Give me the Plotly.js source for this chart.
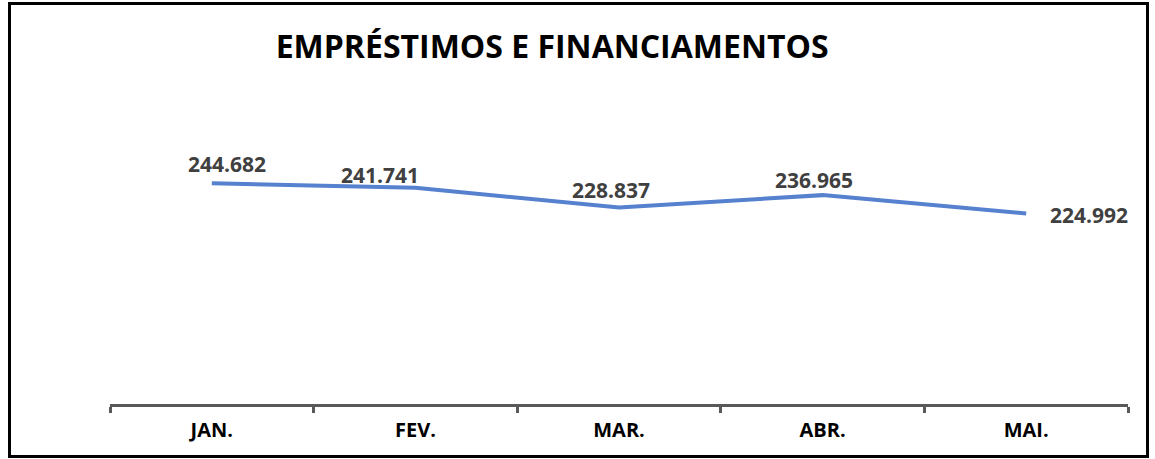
<!DOCTYPE html>
<html>
<head>
<meta charset="utf-8">
<script src="https://cdn.plot.ly/plotly-3.0.1.min.js"></script>
<style>
html,body{margin:0;padding:0;background:#fff;}
#chart{width:1155px;height:459px;}
</style>
</head>
<body>
<div id="chart"></div>
<script>
const months = ["JAN.", "FEV.", "MAR.", "ABR.", "MAI."];
const values = [244.682, 241.741, 228.837, 236.965, 224.992];
const labels = ["244.682", "241.741", "228.837", "236.965", "224.992"];
const labelShiftX = [15, -35, -8, -9, 63];
const labelShiftY = [19, 13, 18, 15, -2];

const trace = {
  x: months,
  y: values,
  type: "scatter",
  mode: "lines",
  line: {color: "#5681CF", width: 4},
  hoverinfo: "skip"
};

const annotations = months.map((m, i) => ({
  x: m, y: values[i], xref: "x", yref: "y",
  text: labels[i], showarrow: false,
  xshift: labelShiftX[i], yshift: labelShiftY[i],
  font: {family: "Open Sans, sans-serif", size: 21, color: "#404040", weight: "bold"}
}));

const layout = {
  width: 1155, height: 459,
  margin: {l: 110, r: 27, t: 99, b: 55},
  paper_bgcolor: "#ffffff",
  plot_bgcolor: "#ffffff",
  showlegend: false,
  title: {
    text: "<b>EMPRÉSTIMOS E FINANCIAMENTOS</b>",
    font: {family: "Open Sans, sans-serif", size: 32, color: "#000000"},
    x: 0.478, xanchor: "center", xref: "container",
    y: 0.8976, yanchor: "middle", yref: "container"
  },
  xaxis: {
    type: "category",
    range: [-0.5, 4.5],
    showgrid: false, zeroline: false,
    showline: true, linecolor: "#595959", linewidth: 3,
    ticks: "outside", tickson: "boundaries", ticklen: 6, tickwidth: 3, tickcolor: "#595959",
    ticklabelstandoff: 6,
    tickfont: {family: "Open Sans, sans-serif", size: 20, color: "#000000", weight: "bold"},
    fixedrange: true
  },
  yaxis: {
    range: [100, 300],
    visible: false,
    showgrid: false, zeroline: false,
    fixedrange: true
  },
  annotations: annotations,
  shapes: [{
    type: "rect", xref: "paper", yref: "paper",
    x0: (9.5 - 110) / 1018, x1: (1147.5 - 110) / 1018,
    y0: (404 - 456.5) / 305, y1: (404 - 3.5) / 305,
    line: {color: "#000000", width: 3},
    fillcolor: "rgba(0,0,0,0)",
    layer: "above"
  }]
};

Plotly.newPlot("chart", [trace], layout, {displayModeBar: false, staticPlot: true});
</script>
</body>
</html>
